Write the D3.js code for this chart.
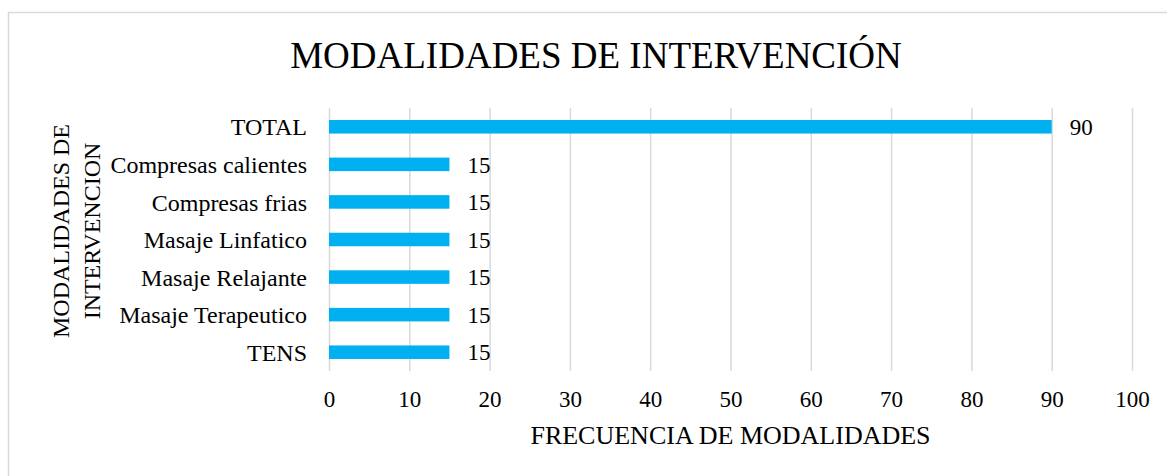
<!DOCTYPE html>
<meta charset="utf-8">
<style>
body { margin: 0; background: #fff; }
svg text { font-family: "Liberation Serif", "Times New Roman", serif; fill: #000; }
.grid line { stroke: #d9d9d9; stroke-width: 1.5; }
.grid path { display: none; }
.axis path, .axis line { display: none; }
.axis text { font-size: 23px; font-family: "Liberation Serif", "Times New Roman", serif; }
.axis.y text { font-size: 24px; }
</style>
<body>
<div id="chart"></div>
<script src="https://cdn.jsdelivr.net/npm/d3@7"></script>
<script>

var categories = ["TOTAL", "Compresas calientes", "Compresas frias", "Masaje Linfatico",
                  "Masaje Relajante", "Masaje Terapeutico", "TENS"];
var values = [90, 15, 15, 15, 15, 15, 15];
var xTicks = [0, 10, 20, 30, 40, 50, 60, 70, 80, 90, 100];

var width = 1167,
    height = 476,
    margin = {top: 108, right: 35, bottom: 105, left: 329};

var svg = d3.select("#chart").append("svg")
    .attr("width", width)
    .attr("height", height);

// chart frame (only top/left edges fall inside the window)
svg.append("rect")
    .attr("x", 8.5)
    .attr("y", 12.5)
    .attr("width", 1200)
    .attr("height", 500)
    .attr("fill", "#fff")
    .attr("stroke", "#d9d9d9")
    .attr("stroke-width", 1.5);

var x = d3.scaleLinear()
    .domain([0, 100])
    .range([margin.left, 1132]);

var y = d3.scaleBand()
    .domain(categories)
    .range([margin.top, 371])
    .paddingInner(0.64)
    .paddingOuter(0.32);

// vertical gridlines
svg.append("g")
    .attr("class", "grid")
    .attr("transform", "translate(0,371)")
    .call(d3.axisBottom(x).tickValues(xTicks).tickSize(-(371 - margin.top)).tickFormat(""));

svg.append("g")
    .attr("class", "axis x")
    .attr("transform", "translate(0,371)")
    .call(d3.axisBottom(x).tickValues(xTicks).tickSize(0).tickPadding(20));

svg.append("g")
    .attr("class", "axis y")
    .attr("transform", "translate(" + (margin.left - 22) + ",1)")
    .call(d3.axisLeft(y).tickSize(0).tickPadding(0));

svg.selectAll(".bar")
    .data(values)
  .enter().append("rect")
    .attr("class", "bar")
    .attr("x", x(0))
    .attr("y", function(d, i) { return y(categories[i]); })
    .attr("width", function(d) { return x(d) - x(0); })
    .attr("height", y.bandwidth())
    .attr("fill", "#00b0f0");

svg.selectAll(".val")
    .data(values)
  .enter().append("text")
    .attr("class", "val")
    .attr("x", function(d) { return x(d) + 18; })
    .attr("y", function(d, i) { return y(categories[i]) + y.bandwidth() / 2; })
    .attr("dy", ".36em")
    .style("font-size", "23px")
    .text(function(d) { return d; });

// titles
svg.append("text")
    .attr("x", 596)
    .attr("y", 68)
    .attr("text-anchor", "middle")
    .style("font-size", "37px")
    .text("MODALIDADES DE INTERVENCIÓN");

svg.append("text")
    .attr("x", 730.5)
    .attr("y", 444)
    .attr("text-anchor", "middle")
    .style("font-size", "26px")
    .text("FRECUENCIA DE MODALIDADES");

var yTitle = svg.append("text")
    .attr("transform", "translate(69,231) rotate(-90)")
    .attr("text-anchor", "middle")
    .style("font-size", "24px");
yTitle.append("tspan").attr("x", 0).attr("y", 0).text("MODALIDADES DE");
yTitle.append("tspan").attr("x", 0).attr("y", 31).text("INTERVENCION");

</script>
</body>
</html>
